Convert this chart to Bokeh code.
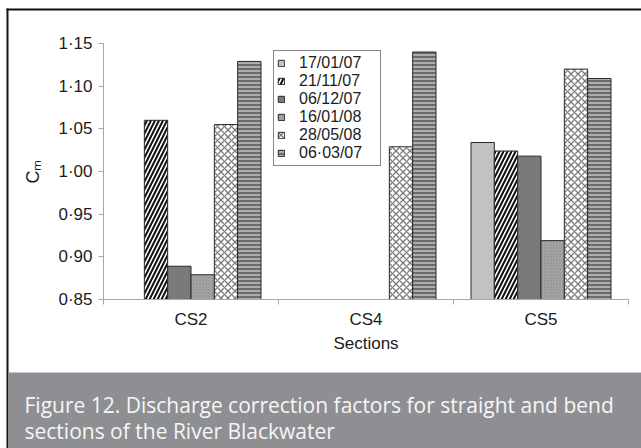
from bokeh.plotting import figure
from bokeh.models import Range1d, FixedTicker, ColumnDataSource
from bokeh.core.properties import value
from bokeh.embed import file_html
from bokeh.resources import INLINE

# ---------------- data ----------------
categories = ["CS2", "CS4", "CS5"]
dates = ["17/01/07", "21/11/07", "06/12/07", "16/01/08", "28/05/08", "06·03/07"]
v_17_01_07 = [None, None, 1.034]
v_21_11_07 = [1.060, None, 1.024]
v_06_12_07 = [0.889, None, 1.018]
v_16_01_08 = [0.879, None, 0.919]
v_28_05_08 = [1.055, 1.029, 1.120]
v_06_03_07 = [1.129, 1.140, 1.109]
series_values = [v_17_01_07, v_21_11_07, v_06_12_07, v_16_01_08, v_28_05_08, v_06_03_07]
y_ticks = [0.85, 0.90, 0.95, 1.00, 1.05, 1.10, 1.15]
y_tick_labels = ["0·85", "0·90", "0·95", "1·00", "1·05", "1·10", "1·15"]
y_min, y_max = 0.85, 1.15
y_title = "Cₘ"
x_title = "Sections"
caption_lines = ["Figure 12. Discharge correction factors for straight and bend",
                 "sections of the River Blackwater"]

# ---------------- styles ----------------
styles = [
    dict(fill_color="#c2c2c2"),
    dict(fill_color="white", hatch_pattern="/", hatch_color="#111111", hatch_scale=8, hatch_weight=2.0),
    dict(fill_color="#7a7a7a"),
    dict(fill_color="#a9a9a9", hatch_pattern="x", hatch_color="#8a8a8a", hatch_scale=3, hatch_weight=0.6),
    dict(fill_color="white", hatch_pattern="x", hatch_color="#7a7a7a", hatch_scale=7, hatch_weight=1.3),
    dict(fill_color="#6c6c6c", hatch_pattern="-", hatch_color="#f0f0f0", hatch_scale=4, hatch_weight=1.0),
]

FONT = "Liberation Sans"
AX_GRAY = "#a8a8a8"
TXT = "#1c1c1c"
BAND = "#8e8f93"

W, H = 641, 448
FL, FR, FT, FB = 103, 628, 43, 299   # plot-area edges in page pixels

ncat = len(categories)
ppx = (FR - FL) / ncat               # pixels per category
ppy = (FB - FT) / (y_max - y_min)    # pixels per unit of C_m

p = figure(width=W, height=H, output_backend="svg", toolbar_location=None, title_location=None,
           x_range=Range1d(0 - FL / ppx, ncat + (W - FR) / ppx),
           y_range=Range1d(y_min - (H - FB) / ppy, y_max + FT / ppy),
           min_border=0, min_border_left=0, min_border_right=0, min_border_top=0, min_border_bottom=0)
p.extra_x_ranges = {"px": Range1d(0, W)}
p.extra_y_ranges = {"px": Range1d(H, 0)}
p.outline_line_color = None
p.xgrid.grid_line_color = None
p.ygrid.grid_line_color = None
p.background_fill_color = "white"
p.border_fill_color = "white"

# decorations: outer frame lines and caption band (page-pixel range)
p.quad(left=[6], right=[W], top=[8], bottom=[10], x_range_name="px", y_range_name="px",
       fill_color="#111111", line_color=None)
p.quad(left=[6], right=[8], top=[8], bottom=[H], x_range_name="px", y_range_name="px",
       fill_color="#111111", line_color=None)
p.quad(left=[8], right=[W], top=[372], bottom=[H], x_range_name="px", y_range_name="px",
       fill_color=BAND, line_color=None)
p.text(x=[24, 24], y=[404, 430], text=caption_lines, x_range_name="px", y_range_name="px",
       text_font=value("Open Sans"), text_font_size="21px", text_color="#f6f6f6",
       text_baseline="alphabetic", text_align="left")

# bars
n = len(dates)
group_w = 0.8
bar_w = group_w / n
for i, (lab, vals) in enumerate(zip(dates, series_values)):
    xs, tops = [], []
    for c, v in enumerate(vals):
        if v is None:
            continue
        xs.append(c + 0.5 - group_w / 2 + (i + 0.5) * bar_w)
        tops.append(v)
    src = ColumnDataSource(dict(x=xs, top=tops))
    p.vbar(x="x", top="top", bottom=y_min, width=bar_w, source=src, legend_label=lab,
           line_color="#2a2a2a", line_width=1, **styles[i])

# y axis
yax = p.yaxis[0]
yax.fixed_location = 0
yax.bounds = (y_min, y_max)
yax.ticker = FixedTicker(ticks=y_ticks, minor_ticks=[])
yax.major_label_overrides = {t: l for t, l in zip(y_ticks, y_tick_labels)}
yax.axis_line_color = AX_GRAY
yax.major_tick_line_color = AX_GRAY
yax.major_tick_out = 5
yax.major_tick_in = 0
yax.minor_tick_line_color = None
yax.major_label_text_font = FONT
yax.major_label_text_font_size = "17px"
yax.major_label_text_color = TXT
yax.major_label_standoff = 6
yax.axis_label = y_title
yax.axis_label_text_font = FONT
yax.axis_label_text_font_size = "18px"
yax.axis_label_text_font_style = "normal"
yax.axis_label_text_color = TXT
yax.axis_label_standoff = 12

# x axis
centers = [c + 0.5 for c in range(ncat)]
xax = p.xaxis[0]
xax.fixed_location = y_min
xax.bounds = (0, ncat)
xax.ticker = FixedTicker(ticks=centers, minor_ticks=list(range(ncat + 1)))
xax.major_label_overrides = {t: l for t, l in zip(centers, categories)}
xax.axis_line_color = AX_GRAY
xax.major_tick_line_color = None
xax.major_tick_out = 0
xax.major_tick_in = 0
xax.minor_tick_line_color = AX_GRAY
xax.minor_tick_out = 5
xax.minor_tick_in = 0
xax.major_label_text_font = FONT
xax.major_label_text_font_size = "17px"
xax.major_label_text_color = TXT
xax.major_label_standoff = 5
xax.axis_label = x_title
xax.axis_label_text_font = FONT
xax.axis_label_text_font_size = "17px"
xax.axis_label_text_font_style = "normal"
xax.axis_label_text_color = TXT
xax.axis_label_standoff = 2

# legend
lg = p.legend[0]
lg.location = (273, H - 166)
lg.margin = 0
lg.padding = 3
lg.spacing = 0
lg.border_line_color = "#111111"
lg.border_line_width = 1
lg.background_fill_color = "white"
lg.background_fill_alpha = 1
lg.glyph_width = 8
lg.glyph_height = 8
lg.label_standoff = 14
lg.label_height = 17
lg.label_width = 78
lg.label_text_font = FONT
lg.label_text_font_size = "16px"
lg.label_text_color = TXT

open("out.html", "w").write(file_html(p, INLINE))
